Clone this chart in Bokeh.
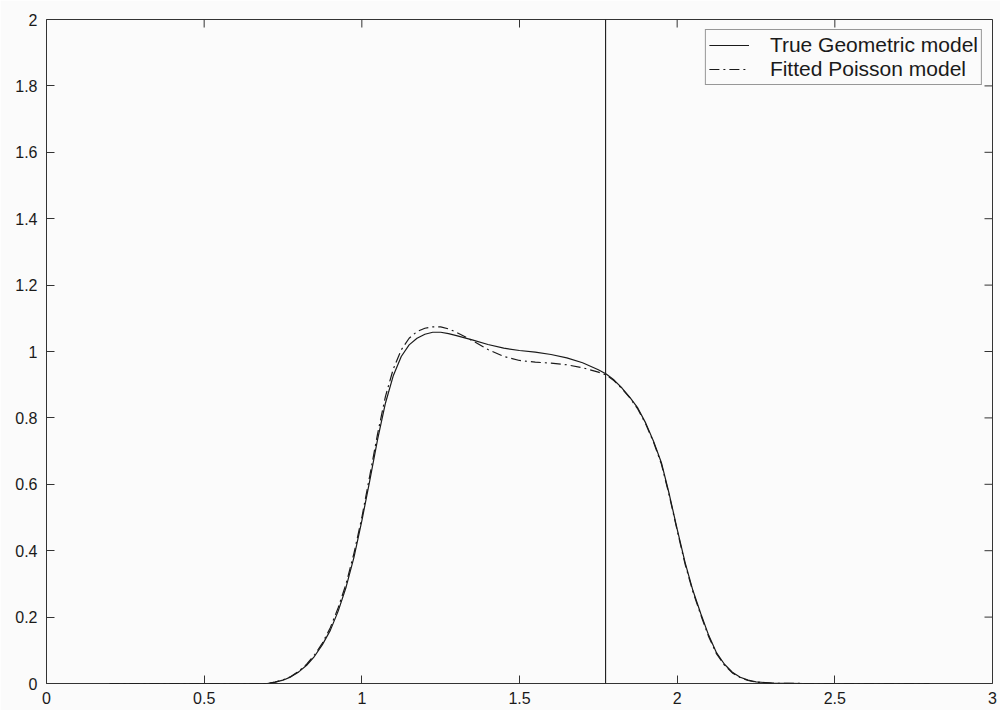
import math
from bokeh.plotting import figure
from bokeh.models import (Range1d, LinearAxis, FixedTicker, CustomJSTickFormatter,
                          Span, Legend, LegendItem)
from bokeh.embed import file_html
from bokeh.resources import INLINE

# ---- data ----
x_vals = [0.200, 0.700, 0.725, 0.750, 0.775, 0.800, 0.825, 0.850, 0.875, 0.900, 0.925,
          0.950, 0.975, 1.000, 1.025, 1.050, 1.075, 1.100, 1.125, 1.150, 1.175, 1.200,
          1.225, 1.250, 1.275, 1.300, 1.350, 1.400, 1.450, 1.500, 1.550, 1.600, 1.650,
          1.700, 1.750, 1.775, 1.800, 1.825, 1.850, 1.875, 1.900, 1.925, 1.950, 1.975,
          2.000, 2.025, 2.050, 2.075, 2.100, 2.125, 2.150, 2.175, 2.200, 2.225, 2.250,
          2.300, 2.400, 2.800]
true_geometric = [0.000, 0.000, 0.004, 0.010, 0.020, 0.035, 0.055, 0.082, 0.117, 0.160, 0.218,
                  0.290, 0.380, 0.490, 0.610, 0.735, 0.845, 0.928, 0.985, 1.020, 1.040, 1.052,
                  1.058, 1.058, 1.054, 1.048, 1.035, 1.021, 1.010, 1.003, 0.998, 0.991, 0.981,
                  0.966, 0.945, 0.932, 0.914, 0.890, 0.862, 0.830, 0.785, 0.730, 0.665, 0.570,
                  0.465, 0.365, 0.280, 0.210, 0.145, 0.092, 0.058, 0.034, 0.019, 0.010, 0.005,
                  0.001, 0.000, 0.000]
fitted_poisson = [0.000, 0.000, 0.004, 0.011, 0.021, 0.037, 0.058, 0.086, 0.122, 0.168, 0.228,
                  0.300, 0.392, 0.500, 0.625, 0.752, 0.865, 0.948, 1.005, 1.040, 1.060, 1.070,
                  1.074, 1.074, 1.068, 1.058, 1.033, 1.006, 0.985, 0.973, 0.968, 0.965, 0.960,
                  0.951, 0.938, 0.929, 0.912, 0.888, 0.860, 0.827, 0.782, 0.727, 0.661, 0.566,
                  0.461, 0.360, 0.276, 0.206, 0.141, 0.089, 0.055, 0.032, 0.018, 0.009, 0.004,
                  0.001, 0.000, 0.000]
vline_x = 1.773

x_ticks = [0, 0.5, 1, 1.5, 2, 2.5, 3]
x_tick_labels = ["0", "0.5", "1", "1.5", "2", "2.5", "3"]
y_ticks = [0, 0.2, 0.4, 0.6, 0.8, 1.0, 1.2, 1.4, 1.6, 1.8, 2.0]
y_tick_labels = ["0", "0.2", "0.4", "0.6", "0.8", "1", "1.2", "1.4", "1.6", "1.8", "2"]
series_names = ["True Geometric model", "Fitted Poisson model"]

FONT = "Liberation Sans"
BG = "#fbfbfb"
INK = "#1a1a1a"
FRAME = "#333333"

p = figure(width=1000, height=710, x_range=Range1d(x_ticks[0], x_ticks[-1]),
           y_range=Range1d(y_ticks[0], y_ticks[-1]),
           output_backend="svg", toolbar_location=None,
           min_border_left=46, min_border_right=8, min_border_top=19, min_border_bottom=27,
           background_fill_color=BG, border_fill_color=BG,
           x_axis_type=None, y_axis_type=None)
p.xgrid.visible = False
p.ygrid.visible = False
p.outline_line_color = FRAME
p.outline_line_width = 1

fmt_code = ("const i = tvals.findIndex(t => Math.abs(t - tick) < 1e-9); "
            "return i >= 0 ? tlabels[i] : '';")


def make_axis(ticks, labels, standoff):
    ax = LinearAxis(ticker=FixedTicker(ticks=ticks),
                    formatter=CustomJSTickFormatter(args=dict(tvals=ticks, tlabels=labels),
                                                    code=fmt_code))
    ax.axis_line_color = None
    ax.major_tick_in = 8
    ax.major_tick_out = 0
    ax.major_tick_line_color = FRAME
    ax.minor_tick_line_color = None
    ax.major_label_text_font = FONT
    ax.major_label_text_color = INK
    ax.major_label_text_font_size = "16px"
    ax.major_label_standoff = standoff
    return ax


p.add_layout(make_axis(x_ticks, x_tick_labels, 8), "below")
p.add_layout(make_axis(y_ticks, y_tick_labels, 9), "left")

# inward ticks on the top and right edges of the frame
p.ray(x=x_ticks, y=[y_ticks[-1]] * len(x_ticks), length=8, length_units="screen",
      angle=-math.pi / 2, line_color=FRAME, line_width=1)
p.ray(x=[x_ticks[-1]] * len(y_ticks), y=y_ticks, length=8, length_units="screen",
      angle=math.pi, line_color=FRAME, line_width=1)

r1 = p.line(x_vals, true_geometric, line_color=INK, line_width=1.2)
r2 = p.line(x_vals, fitted_poisson, line_color=INK, line_width=1.2, line_dash="10 4 2 4")

p.add_layout(Span(location=vline_x, dimension="height", line_color=INK, line_width=1.1))

legend = Legend(items=[LegendItem(label=series_names[0], renderers=[r1]),
                       LegendItem(label=series_names[1], renderers=[r2])],
                location="top_right")
legend.margin = 10
legend.padding = 3
legend.spacing = 0
legend.label_height = 20
legend.glyph_height = 20
legend.glyph_width = 40
legend.label_standoff = 21
legend.label_text_font = FONT
legend.label_text_font_size = "21px"
legend.label_text_line_height = 1.0
legend.label_text_color = INK
legend.border_line_color = FRAME
legend.border_line_width = 1
legend.background_fill_color = BG
legend.background_fill_alpha = 1.0
p.add_layout(legend)

open("out.html", "w").write(file_html(p, INLINE))
